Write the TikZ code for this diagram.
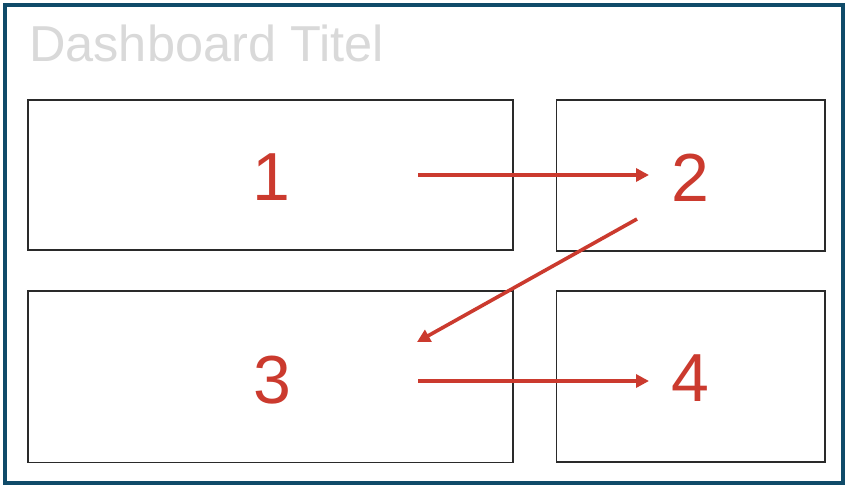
\documentclass[tikz,border=0pt]{standalone}
\usepackage{fontspec}
\setmainfont{Liberation Sans}
\usetikzlibrary{arrows.meta}
\definecolor{frameblue}{HTML}{0F4B69}
\definecolor{arrred}{HTML}{CB3A2E}
\definecolor{titlegray}{HTML}{D9D9D9}
\definecolor{boxline}{HTML}{2A2A2A}
\begin{document}
\begin{tikzpicture}[x=1pt,y=-1pt,
  panel/.style={draw=boxline,line width=1.1pt,fill=white},
  numlabel/.style={text=arrred,font=\fontsize{68}{68}\selectfont,inner sep=0pt},
  flow/.style={draw=arrred,line width=3.6pt,-{Triangle[length=13pt,width=13pt]}}]
\useasboundingbox (0,0) rectangle (848,487);
\fill[white] (0,0) rectangle (848,487);
\draw[frameblue,line width=4pt] (5,5) rectangle (843,483);
\node[anchor=base west,inner sep=0pt,text=titlegray,font=\fontsize{50.5}{50.5}\selectfont] (title) at (29,62) {Dashboard Titel};
\draw[panel] (28,100) rectangle (513,250);
\draw[panel] (556.5,100) rectangle (825,251);
\draw[panel] (28,291) rectangle (513,462.5);
\draw[panel] (556.5,291) rectangle (825,462);
\node[numlabel] (n1) at (271,177) {1};
\node[numlabel] (n2) at (690,178) {2};
\node[numlabel] (n3) at (272,380) {3};
\node[numlabel] (n4) at (690,378) {4};
\coordinate (a1s) at (418,175);
\coordinate (a1e) at (649,175);
\coordinate (a2s) at (637,219);
\coordinate (a2e) at (417,342);
\coordinate (a3s) at (418,381);
\coordinate (a3e) at (649,381);
\draw[flow] (a1s) -- (a1e);
\draw[flow] (a2s) -- (a2e);
\draw[flow] (a3s) -- (a3e);
\end{tikzpicture}
\end{document}
